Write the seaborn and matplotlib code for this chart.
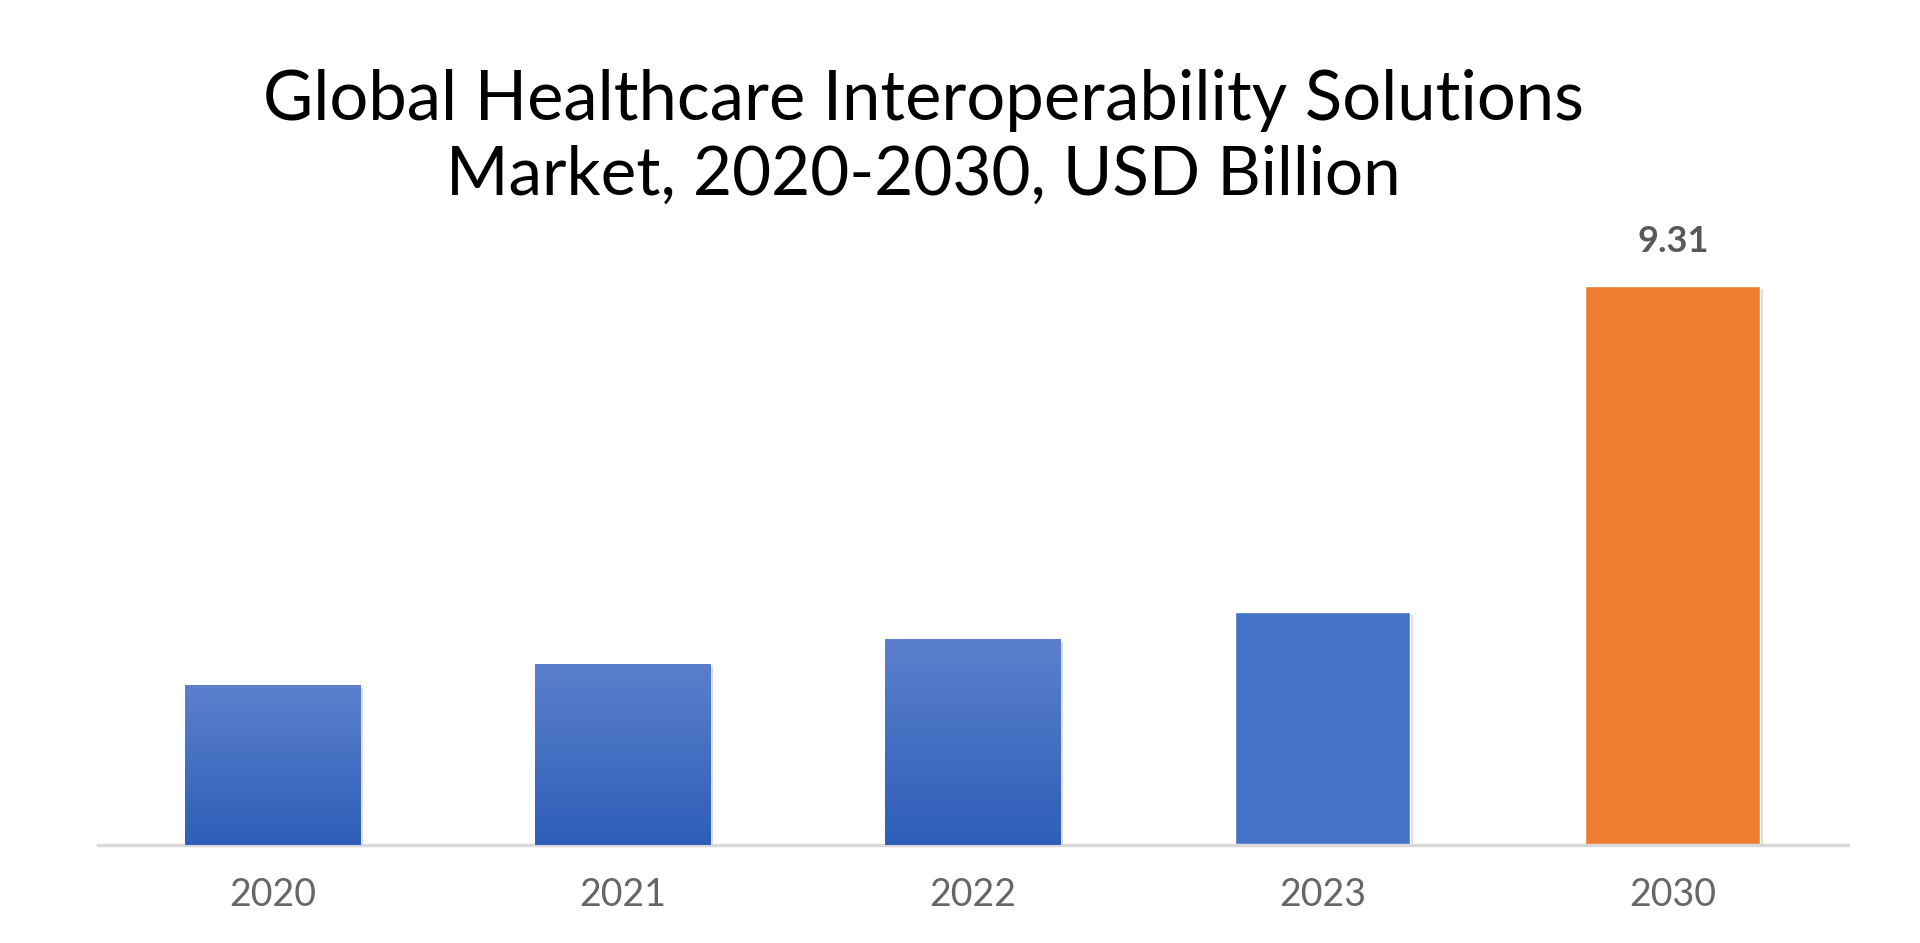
import numpy as np
import pandas as pd
import matplotlib
matplotlib.use("Agg")
import matplotlib.pyplot as plt
import matplotlib.patheffects as pe
from matplotlib.colors import LinearSegmentedColormap
import seaborn as sns

# data
years = ["2020", "2021", "2022", "2023", "2030"]
market_size = [2.66, 3.02, 3.43, 3.88, 9.31]
bar_colors = ["#4472C4", "#4472C4", "#4472C4", "#4472C4", "#ED7D31"]
gradient_years = ["2020", "2021", "2022"]
title_lines = ["Global Healthcare Interoperability Solutions",
               "Market, 2020-2030, USD Billion"]

df = pd.DataFrame({"year": years, "value": market_size})

sns.set_theme(style="white")
plt.rcParams["font.family"] = ["Lato", "DejaVu Sans"]

fig = plt.figure(figsize=(19.2, 9.43), dpi=100)
ax = fig.add_axes([0.051, 0.1039, 0.9115, 0.684])

sns.barplot(data=df, x="year", y="value", hue="year", palette=bar_colors,
            legend=False, width=0.5, saturation=1, ax=ax)

# soft shadow + vertical gradient on the first bars
grad_cmap = LinearSegmentedColormap.from_list("bluegrad", ["#2E5EB8", "#5B80CC"])
grad = np.linspace(0, 1, 256).reshape(-1, 1)
for yr, patch in zip(years, ax.patches):
    patch.set_path_effects([pe.SimplePatchShadow(offset=(2, -2), shadow_rgbFace="#9a9a9a", alpha=0.35),
                            pe.Normal()])
    if yr in gradient_years:
        x0, w, h = patch.get_x(), patch.get_width(), patch.get_height()
        im = ax.imshow(grad, extent=[x0, x0 + w, 0, h], origin="lower", aspect="auto",
                       cmap=grad_cmap, zorder=3)
        im.set_clip_path(patch)

ax.set_xlim(-0.5, 4.5)
ax.set_ylim(0, 10.74)

ax.annotate(f"{market_size[-1]:.2f}", xy=(4, market_size[-1]), xytext=(0, 32),
            textcoords="offset points", ha="center", va="center",
            fontsize=26, fontweight="bold", color="#595959")

for s in ["top", "left", "right"]:
    ax.spines[s].set_visible(False)
ax.spines["bottom"].set_color("#D9D9D9")
ax.spines["bottom"].set_linewidth(2.5)
ax.set_yticks([])
ax.set_xlabel("")
ax.set_ylabel("")
ax.tick_params(axis="x", length=0, labelsize=27, labelcolor="#666666", pad=23)

fig.text(0.481, 1 - 120 / 943, title_lines[0], ha="center", va="baseline", fontsize=49.5, color="black")
fig.text(0.481, 1 - 195 / 943, title_lines[1], ha="center", va="baseline", fontsize=48.5, color="black")

fig.savefig("out.png", dpi=100, facecolor="white")
